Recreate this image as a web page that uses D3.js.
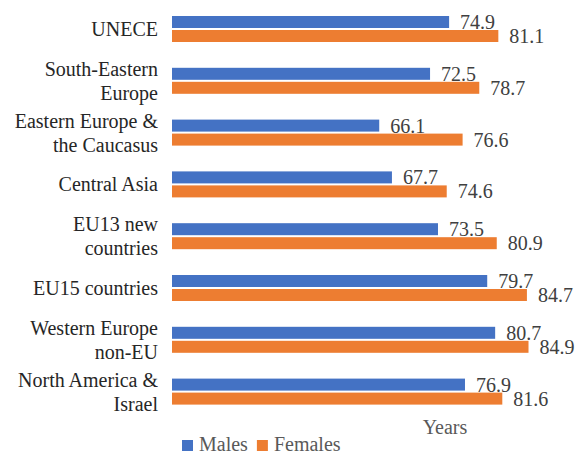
<!DOCTYPE html>
<html>
<head>
<meta charset="utf-8">
<script src="https://cdn.jsdelivr.net/npm/d3@7"></script>
<style>
  html, body { margin: 0; padding: 0; background: #fff; }
</style>
</head>
<body>
<svg id="chart" width="577" height="454"></svg>
<script>
const categories = [
  "UNECE",
  "South-Eastern\nEurope",
  "Eastern Europe &\nthe Caucasus",
  "Central Asia",
  "EU13 new\ncountries",
  "EU15 countries",
  "Western Europe\nnon-EU",
  "North America &\nIsrael"
];
const seriesNames = ["Males", "Females"];
const males   = [74.9, 72.5, 66.1, 67.7, 73.5, 79.7, 80.7, 76.9];
const females = [81.1, 78.7, 76.6, 74.6, 80.9, 84.7, 84.9, 81.6];
const axisTitle = "Years";
const xDomain = [40, 90];

const FONT = "'Liberation Serif', 'Times New Roman', Tinos, 'DejaVu Serif', serif";
const colors = { Males: "#4472C4", Females: "#ED7D31" };
const svg = d3.select("#chart").attr("font-family", FONT);

const x = d3.scaleLinear().domain(xDomain).range([172, 569]);
const y = d3.scaleBand().domain(categories).range([3.1, 3.1 + 8 * 51.8]).padding(0);
const sub = d3.scaleBand().domain(seriesNames).range([-13, 13]).paddingInner(2 / 14);

const rows = categories.map((c, i) => ({ cat: c, Males: males[i], Females: females[i] }));

const g = svg.append("g");
const groups = g.selectAll("g.cat").data(rows).join("g")
  .attr("transform", d => `translate(0,${y(d.cat) + y.bandwidth() / 2})`);

groups.selectAll("rect").data(d => seriesNames.map(s => ({ s, v: d[s] }))).join("rect")
  .attr("x", x(xDomain[0]))
  .attr("y", d => sub(d.s))
  .attr("width", d => x(d.v) - x(xDomain[0]))
  .attr("height", sub.bandwidth())
  .attr("fill", d => colors[d.s]);

groups.selectAll("text.val").data(d => seriesNames.map(s => ({ s, v: d[s] }))).join("text")
  .attr("class", "val")
  .attr("font-family", FONT)
  .attr("x", d => x(d.v) + 11)
  .attr("y", d => sub(d.s) + sub.bandwidth() / 2)
  .attr("dy", "0.35em")
  .attr("font-size", 20)
  .attr("fill", "#404040")
  .text(d => d.v.toFixed(1));

// category labels
const lineH = 24;
groups.append("text")
  .attr("font-family", FONT)
  .attr("text-anchor", "end")
  .attr("font-size", 20)
  .attr("fill", "#262626")
  .each(function(d) {
    const lines = d.cat.split("\n");
    const t = d3.select(this);
    lines.forEach((ln, k) => {
      t.append("tspan")
        .attr("x", 158)
        .attr("y", 7 - (lines.length - 1) * lineH / 2 + k * lineH)
        .text(ln);
    });
  });

// axis title
svg.append("text")
  .attr("font-family", FONT)
  .attr("x", 445).attr("y", 434)
  .attr("text-anchor", "middle")
  .attr("font-size", 20)
  .attr("fill", "#595959")
  .text(axisTitle);

// legend
const legend = svg.append("g").attr("transform", "translate(182,440)");
let lx = 0;
seriesNames.forEach(s => {
  const item = legend.append("g").attr("transform", `translate(${lx},0)`);
  item.append("rect").attr("width", 11).attr("height", 11).attr("fill", colors[s]);
  const t = item.append("text").attr("x", 17).attr("y", 11)
    .attr("font-family", FONT)
    .attr("font-size", 20).attr("fill", "#595959").text(s);
  lx += 17 + t.node().getComputedTextLength() + 9;
});
</script>
</body>
</html>
